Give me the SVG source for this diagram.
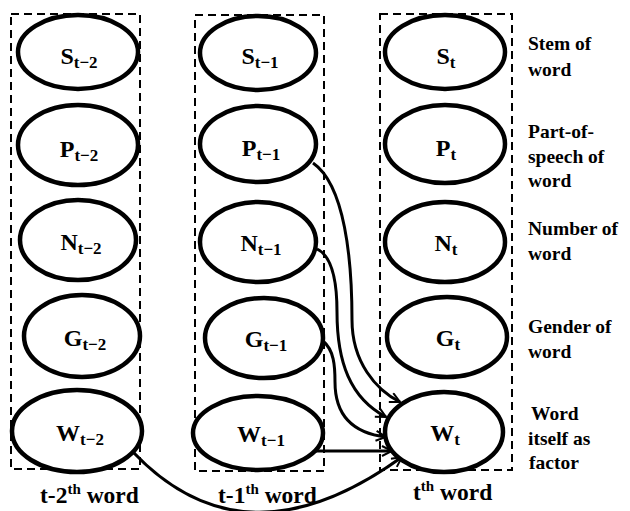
<svg xmlns="http://www.w3.org/2000/svg" width="630" height="511" viewBox="0 0 630 511">
<defs>
<style>
.box{fill:none;stroke:#000;stroke-width:2;stroke-dasharray:8 5}
.node ellipse{fill:#fff;stroke:#000;stroke-width:4.5}
.lbl{font-family:"Liberation Serif","Times New Roman",serif;font-weight:bold;font-size:24px;fill:#000;text-anchor:middle}
.sub{font-size:17px}
.side{font-family:"Liberation Serif","Times New Roman",serif;font-weight:bold;font-size:19.5px;fill:#000}
.cap{font-family:"Liberation Serif","Times New Roman",serif;font-weight:bold;font-size:23.5px;fill:#000}
.edge{fill:none;stroke:#000;stroke-width:3}
</style>
<marker id="arr" viewBox="0 0 12 12" refX="11" refY="6" markerWidth="12" markerHeight="12" markerUnits="userSpaceOnUse" orient="auto">
<path d="M1,1 L11,6 L1,11" fill="none" stroke="#000" stroke-width="2"/>
</marker>
</defs>
<rect width="630" height="511" fill="#fff"/>

<g id="columns">
<rect class="box" x="11" y="14" width="129" height="455"/>
<rect class="box" x="195" y="15" width="129" height="456"/>
<rect class="box" x="380" y="14" width="132" height="456"/>
</g>

<g id="connectors">
<path class="edge" d="M313,163 C345,185 352,260 352,320 C352,362 376,390 400,402" marker-end="url(#arr)"/>
<path class="edge" d="M317,249 C332,256 337,282 337,312 C337,362 350,398 386,417" marker-end="url(#arr)"/>
<path class="edge" d="M323,341 C334,350 335,366 335,382 C335,414 352,433 386,437" marker-end="url(#arr)"/>
<path class="edge" d="M313,451 L392,451" marker-end="url(#arr)"/>
<path class="edge" d="M133,452 Q245,570 402,457" marker-end="url(#arr)"/>
</g>

<g id="S_t-2" class="node"><ellipse cx="78" cy="52" rx="60" ry="37"/><text class="lbl" x="79" y="64">S<tspan class="sub" dy="4">t−2</tspan></text></g>
<g id="P_t-2" class="node"><ellipse cx="78" cy="145" rx="60" ry="40"/><text class="lbl" x="79" y="157">P<tspan class="sub" dy="4">t−2</tspan></text></g>
<g id="N_t-2" class="node"><ellipse cx="78" cy="240" rx="58" ry="40"/><text class="lbl" x="81" y="250">N<tspan class="sub" dy="4">t−2</tspan></text></g>
<g id="G_t-2" class="node"><ellipse cx="82" cy="336" rx="58" ry="41"/><text class="lbl" x="85" y="346">G<tspan class="sub" dy="4">t−2</tspan></text></g>
<g id="W_t-2" class="node"><ellipse cx="77" cy="431" rx="65" ry="41"/><text class="lbl" x="80" y="441">W<tspan class="sub" dy="4">t−2</tspan></text></g>

<g id="S_t-1" class="node"><ellipse cx="258" cy="53" rx="58" ry="37"/><text class="lbl" x="260" y="64">S<tspan class="sub" dy="4">t−1</tspan></text></g>
<g id="P_t-1" class="node"><ellipse cx="258" cy="144" rx="58" ry="38"/><text class="lbl" x="261" y="156">P<tspan class="sub" dy="4">t−1</tspan></text></g>
<g id="N_t-1" class="node"><ellipse cx="258" cy="242" rx="58" ry="40"/><text class="lbl" x="261" y="251">N<tspan class="sub" dy="4">t−1</tspan></text></g>
<g id="G_t-1" class="node"><ellipse cx="264" cy="338" rx="59" ry="40"/><text class="lbl" x="266" y="347">G<tspan class="sub" dy="4">t−1</tspan></text></g>
<g id="W_t-1" class="node"><ellipse cx="258" cy="433" rx="65" ry="37"/><text class="lbl" x="261" y="442">W<tspan class="sub" dy="4">t−1</tspan></text></g>

<g id="S_t" class="node"><ellipse cx="445" cy="52" rx="60" ry="37"/><text class="lbl" x="446" y="64">S<tspan class="sub" dy="4">t</tspan></text></g>
<g id="P_t" class="node"><ellipse cx="445" cy="144" rx="60" ry="39"/><text class="lbl" x="446" y="156">P<tspan class="sub" dy="4">t</tspan></text></g>
<g id="N_t" class="node"><ellipse cx="445" cy="242" rx="60" ry="40"/><text class="lbl" x="446" y="251">N<tspan class="sub" dy="4">t</tspan></text></g>
<g id="G_t" class="node"><ellipse cx="447" cy="337" rx="60" ry="40"/><text class="lbl" x="448" y="346">G<tspan class="sub" dy="4">t</tspan></text></g>
<g id="W_t" class="node"><ellipse cx="444" cy="432" rx="59" ry="40"/><text class="lbl" x="445" y="441">W<tspan class="sub" dy="4">t</tspan></text></g>

<g id="side-labels">
<text class="side" x="528" y="50">Stem of</text>
<text class="side" x="528" y="76">word</text>
<text class="side" x="528" y="138">Part-of-</text>
<text class="side" x="528" y="163">speech of</text>
<text class="side" x="528" y="187">word</text>
<text class="side" x="528" y="235">Number of</text>
<text class="side" x="528" y="260">word</text>
<text class="side" x="528" y="333">Gender of</text>
<text class="side" x="528" y="358">word</text>
<text class="side" x="531" y="420">Word</text>
<text class="side" x="528" y="445">itself as</text>
<text class="side" x="529" y="469">factor</text>
</g>

<g id="column-labels">
<text class="cap" x="40" y="503">t-2<tspan font-size="15" dy="-9">th</tspan><tspan dy="9"> word</tspan></text>
<text class="cap" x="218" y="503">t-1<tspan font-size="15" dy="-9">th</tspan><tspan dy="9"> word</tspan></text>
<text class="cap" x="413" y="500">t<tspan font-size="15" dy="-9">th</tspan><tspan dy="9"> word</tspan></text>
</g>
</svg>
